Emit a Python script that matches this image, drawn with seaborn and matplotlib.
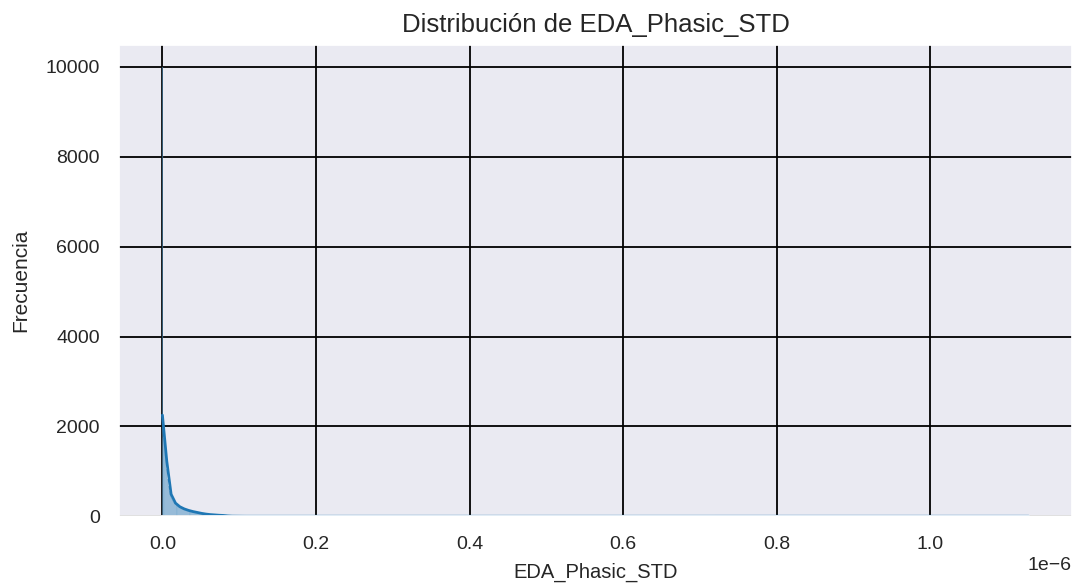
import numpy as np
import pandas as pd
import matplotlib
matplotlib.use("Agg")
import matplotlib.pyplot as plt
import seaborn as sns

# Histogram of EDA_Phasic_STD (values in siemens, of the order of 1e-6)
x_max = 1.128e-6
n_bins = 800

# Counts for the first bins starting at zero (most windows have ~0 phasic std)
recuentos_iniciales = [
    9990, 1750, 1350, 1050, 840, 680, 560, 470, 410, 360,
    325, 295, 270, 250, 232, 216, 202, 190, 178, 168,
    158, 150, 142, 134, 127, 120, 114, 108, 102, 97,
    92, 87, 82, 77, 72, 67, 62, 58, 54, 50,
    47, 44, 41, 38, 36, 34, 32, 30, 28, 26,
    25, 23, 22, 21, 20, 19, 18, 17, 16, 15,
]

# Sparse long tail: values (x1e-6) and how many samples take each one
valores_cola = [0.090, 0.100, 0.120, 0.140, 0.160, 0.180, 0.200, 0.250,
                0.300, 0.350, 0.400, 0.500, 0.600, 0.700, 0.800, 0.900,
                1.000, 1.128]
recuentos_cola = [12, 10, 8, 7, 6, 5, 4, 4, 3, 3, 2, 2, 1, 1, 1, 1, 1, 1]

edges = np.linspace(0.0, x_max, n_bins + 1)
centers = 0.5 * (edges[:-1] + edges[1:])
head = np.repeat(centers[:len(recuentos_iniciales)], recuentos_iniciales)
head[:recuentos_iniciales[0]] = 0.0
tail = np.repeat(np.array(valores_cola) * 1e-6, recuentos_cola)
df = pd.DataFrame({"EDA_Phasic_STD": np.concatenate([head, tail])})

sns.set_theme(style="darkgrid", rc={"grid.color": "black",
                                     "grid.linewidth": 1.3,
                                     "axes.facecolor": "#EAEAF2"})
plt.rcParams["font.family"] = ["Liberation Sans", "DejaVu Sans"]

fig = plt.figure(figsize=(10.73, 5.84), dpi=100)
ax = fig.add_axes([0.111, 0.116, 0.888, 0.807])

sns.histplot(data=df, x="EDA_Phasic_STD", bins=edges, kde=True,
             color="#1f77b4", ax=ax, line_kws={"linewidth": 2})

ax.set_title("Distribución de EDA_Phasic_STD", fontsize=18.5, color=".15", pad=9)
ax.set_xlabel("EDA_Phasic_STD", fontsize=14.5, color=".15", labelpad=7)
ax.set_ylabel("Frecuencia", fontsize=15, color=".15", labelpad=11)
ax.tick_params(labelsize=14, colors=".15", pad=8)
ax.xaxis.get_offset_text().set_fontsize(14)

fig.savefig("out.png", dpi=100)
